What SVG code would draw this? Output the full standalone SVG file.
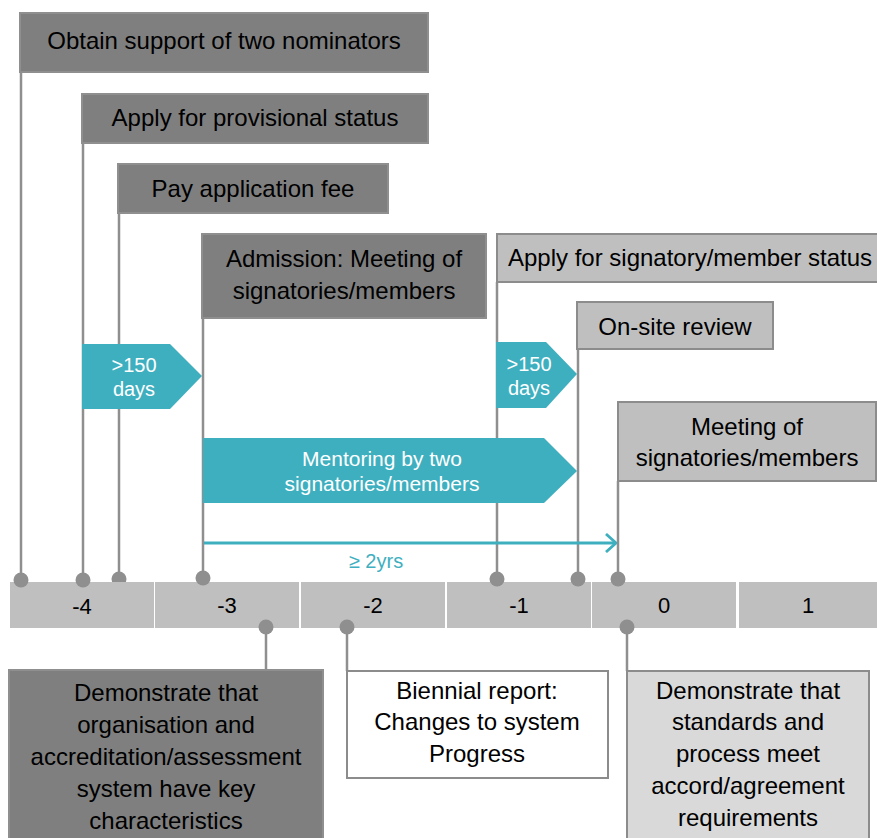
<svg xmlns="http://www.w3.org/2000/svg" width="877" height="838" viewBox="0 0 877 838">
  <defs>
    <style>
      text { font-family: "Liberation Sans", Arial, sans-serif; }
      .lbl { font-size: 24px; fill: #000; text-anchor: middle; }
      .blbl { font-size: 24px; fill: #000; text-anchor: middle; }
      .tick { font-size: 22px; fill: #000; text-anchor: middle; }
      .wlbl { font-size: 20px; fill: #fff; text-anchor: middle; }
      .dark { fill: #7f7f7f; stroke: #8f8f8f; stroke-width: 2; }
      .light { fill: #bfbfbf; stroke: #8c8c8c; stroke-width: 2; }
      .pale { fill: #d9d9d9; stroke: #8c8c8c; stroke-width: 2; }
      .white { fill: #ffffff; stroke: #8c8c8c; stroke-width: 2; }
      .stem { stroke: #8f8f8f; stroke-width: 2.5; fill: none; }
      .dot { fill: #8f8f8f; }
      .seg { fill: #bfbfbf; }
      .teal { fill: #3eafbf; }
    </style>
    <marker id="chev" viewBox="0 0 12 20" refX="11" refY="10" markerWidth="12" markerHeight="20" markerUnits="userSpaceOnUse" orient="auto">
      <path d="M1 1 L11 10 L1 19" fill="none" stroke="#3eafbf" stroke-width="2.8"/>
    </marker>
  </defs>

  <!-- stems behind the timeline bar -->
  <g id="connectors">
    <line class="stem" x1="21" y1="72" x2="21" y2="580"/>
    <line class="stem" x1="83" y1="143" x2="83" y2="580"/>
    <line class="stem" x1="119" y1="213" x2="119" y2="579"/>
    <line class="stem" x1="203" y1="318" x2="203" y2="578"/>
    <line class="stem" x1="497" y1="282" x2="497" y2="579"/>
    <line class="stem" x1="578" y1="349" x2="578" y2="579"/>
    <line class="stem" x1="618" y1="481" x2="618" y2="579"/>
    <line class="stem" x1="266" y1="627" x2="266" y2="670"/>
    <line class="stem" x1="347" y1="627" x2="347" y2="671"/>
    <line class="stem" x1="627" y1="627" x2="627" y2="671"/>
    <circle class="dot" cx="119" cy="579" r="7.5"/>
  </g>

  <!-- year scale -->
  <g id="timeline">
    <rect class="seg" x="10" y="582" width="144" height="46"/>
    <rect class="seg" x="155" y="582" width="144" height="46"/>
    <rect class="seg" x="301" y="582" width="144" height="46"/>
    <rect class="seg" x="447" y="582" width="144" height="46"/>
    <rect class="seg" x="592" y="582" width="144" height="46"/>
    <rect class="seg" x="739" y="582" width="138" height="46"/>
    <text class="tick" x="82" y="614">-4</text>
    <text class="tick" x="227" y="613">-3</text>
    <text class="tick" x="373" y="613">-2</text>
    <text class="tick" x="519" y="613">-1</text>
    <text class="tick" x="664" y="613">0</text>
    <text class="tick" x="808" y="613">1</text>
  </g>

  <!-- stem end dots -->
  <g id="dots">
    <circle class="dot" cx="21" cy="580" r="7.5"/>
    <circle class="dot" cx="83" cy="580" r="7.5"/>
    <circle class="dot" cx="203" cy="578" r="7.5"/>
    <circle class="dot" cx="497" cy="579" r="7.5"/>
    <circle class="dot" cx="578" cy="579" r="7.5"/>
    <circle class="dot" cx="618" cy="579" r="7.5"/>
    <circle class="dot" cx="266" cy="627" r="7.5"/>
    <circle class="dot" cx="347" cy="627" r="7.5"/>
    <circle class="dot" cx="627" cy="627" r="7.5"/>
  </g>

  <!-- milestones above the scale -->
  <g id="nominators">
    <rect class="dark" x="20" y="13" width="408" height="59"/>
    <text class="lbl" x="224" y="49">Obtain support of two nominators</text>
  </g>
  <g id="provisional">
    <rect class="dark" x="82" y="94" width="346" height="49"/>
    <text class="lbl" x="255" y="126">Apply for provisional status</text>
  </g>
  <g id="fee">
    <rect class="dark" x="118" y="164" width="270" height="49"/>
    <text class="lbl" x="253" y="197">Pay application fee</text>
  </g>
  <g id="admission">
    <rect class="dark" x="202" y="234" width="284" height="84"/>
    <text class="lbl" x="344" y="267">Admission: Meeting of</text>
    <text class="lbl" x="344" y="299">signatories/members</text>
  </g>
  <g id="apply-status">
    <rect class="light" x="497" y="234" width="390" height="48"/>
    <text class="lbl" x="690" y="266">Apply for signatory/member status</text>
  </g>
  <g id="onsite">
    <rect class="light" x="577" y="302" width="196" height="47"/>
    <text class="lbl" x="675" y="335">On-site review</text>
  </g>
  <g id="meeting">
    <rect class="light" x="618" y="402" width="258" height="79"/>
    <text class="lbl" x="747" y="435">Meeting of</text>
    <text class="lbl" x="747" y="466">signatories/members</text>
  </g>

  <!-- durations -->
  <g id="wait-1">
    <polygon class="teal" points="82,344 170,344 202,376 170,409 82,409"/>
    <text class="wlbl" x="134" y="372">&gt;150</text>
    <text class="wlbl" x="134" y="396">days</text>
  </g>
  <g id="wait-2">
    <polygon class="teal" points="496,342 546,342 577,374 546,408 496,408"/>
    <text class="wlbl" x="529" y="371">&gt;150</text>
    <text class="wlbl" x="529" y="395">days</text>
  </g>
  <g id="mentoring">
    <polygon class="teal" points="203,438 544,438 577,471 544,503 203,503"/>
    <text class="wlbl" x="382" y="466" style="font-size:21px">Mentoring by two</text>
    <text class="wlbl" x="382" y="491" style="font-size:21px">signatories/members</text>
  </g>
  <g id="span">
    <line x1="204" y1="543" x2="616" y2="543" stroke="#3eafbf" stroke-width="2.8" marker-end="url(#chev)"/>
    <text x="376" y="568" style="font-size:20px; fill:#3eafbf; text-anchor:middle">≥ 2yrs</text>
  </g>

  <!-- requirements below the scale -->
  <g id="key-characteristics">
    <rect class="dark" x="9" y="670" width="314" height="180"/>
    <text class="blbl" x="166" y="701">Demonstrate that</text>
    <text class="blbl" x="166" y="733">organisation and</text>
    <text class="blbl" x="166" y="765">accreditation/assessment</text>
    <text class="blbl" x="166" y="797">system have key</text>
    <text class="blbl" x="166" y="829">characteristics</text>
  </g>
  <g id="biennial">
    <rect class="white" x="347" y="671" width="261" height="107"/>
    <text class="blbl" x="477" y="699">Biennial report:</text>
    <text class="blbl" x="477" y="730">Changes to system</text>
    <text class="blbl" x="477" y="762">Progress</text>
  </g>
  <g id="standards">
    <rect class="pale" x="627" y="671" width="242" height="180"/>
    <text class="blbl" x="748" y="699">Demonstrate that</text>
    <text class="blbl" x="748" y="730">standards and</text>
    <text class="blbl" x="748" y="762">process meet</text>
    <text class="blbl" x="748" y="794">accord/agreement</text>
    <text class="blbl" x="748" y="826">requirements</text>
  </g>
</svg>
